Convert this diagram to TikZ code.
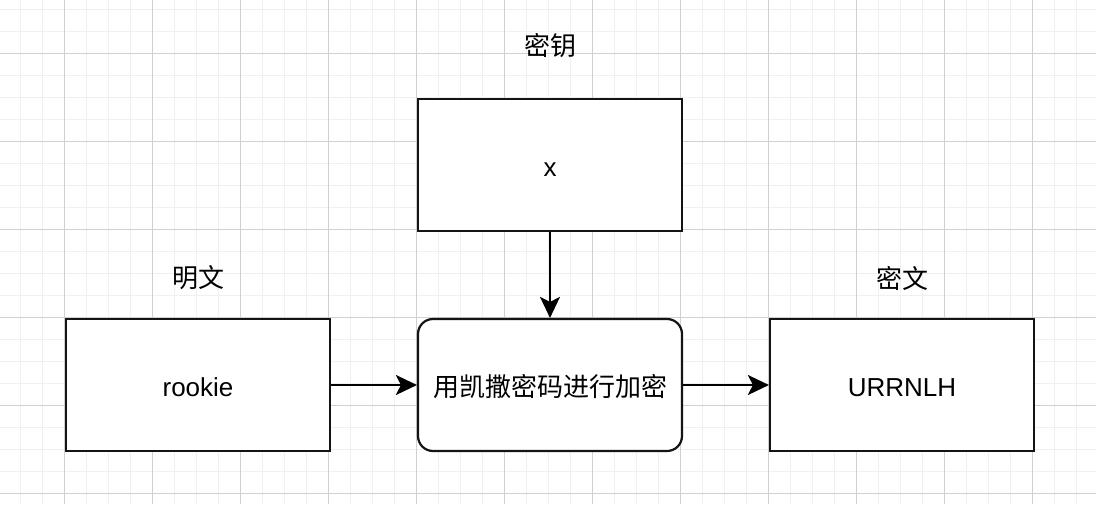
\documentclass[tikz,border=0pt]{standalone}
\usepackage{fontspec}
\setmainfont{Liberation Sans}
\newfontfamily\cjk{Noto Sans CJK SC}
\usetikzlibrary{arrows.meta}
\definecolor{gridmajor}{RGB}{208,208,208}
\definecolor{gridminor}{RGB}{240,240,240}
\definecolor{edge}{RGB}{20,20,20}
\tikzset{
  boxstyle/.style={draw=edge, line width=2.2pt, fill=white, minimum width=264pt, minimum height=132pt, inner sep=0pt, text height=26pt, text depth=3pt, font=\fontsize{26}{31}\selectfont},
  roundbox/.style={boxstyle, rounded corners=15pt},
  labelstyle/.style={font=\cjk\fontsize{26}{31}\selectfont, inner sep=0pt},
  conn/.style={draw=black, line width=2pt, -{Stealth[length=21pt, width=20pt, inset=5pt]}}
}
\begin{document}
\begin{tikzpicture}[x=1pt, y=-1pt]
\useasboundingbox (0,0) rectangle (1096,504);
\fill[white] (0,0) rectangle (1096,504);
% minor grid
\foreach \i in {0,...,50} {
  \pgfmathsetmacro{\xx}{-1.7+22*\i}
  \draw[gridminor, line width=1.2pt] (\xx,0) -- (\xx,504);
}
\foreach \j in {0,...,23} {
  \pgfmathsetmacro{\yy}{9.3+22*\j}
  \draw[gridminor, line width=1.2pt] (0,\yy) -- (1096,\yy);
}
% major grid
\foreach \i in {0,...,12} {
  \pgfmathsetmacro{\xx}{64.3+88*\i}
  \draw[gridmajor, line width=1pt] (\xx,0) -- (\xx,504);
}
\foreach \j in {0,...,5} {
  \pgfmathsetmacro{\yy}{53.3+88*\j}
  \draw[gridmajor, line width=1pt] (0,\yy) -- (1096,\yy);
}
% boxes
\node[boxstyle] (key) at (550,165) {x};
\node[boxstyle] (plain) at (198,385) {rookie};
\node[roundbox] (enc) at (550,385) {\cjk 用凯撒密码进行加密};
\node[boxstyle] (cipher) at (902,385) {URRNLH};
% labels
\node[labelstyle] (keylabel) at (550,46) {密钥};
\node[labelstyle] (plainlabel) at (198,278) {明文};
\node[labelstyle] (cipherlabel) at (902,278) {密文};
% connectors
\draw[conn] (plain.east) -- (enc.west);
\draw[conn] (key.south) -- (enc.north);
\draw[conn] (enc.east) -- (cipher.west);
\end{tikzpicture}
\end{document}
